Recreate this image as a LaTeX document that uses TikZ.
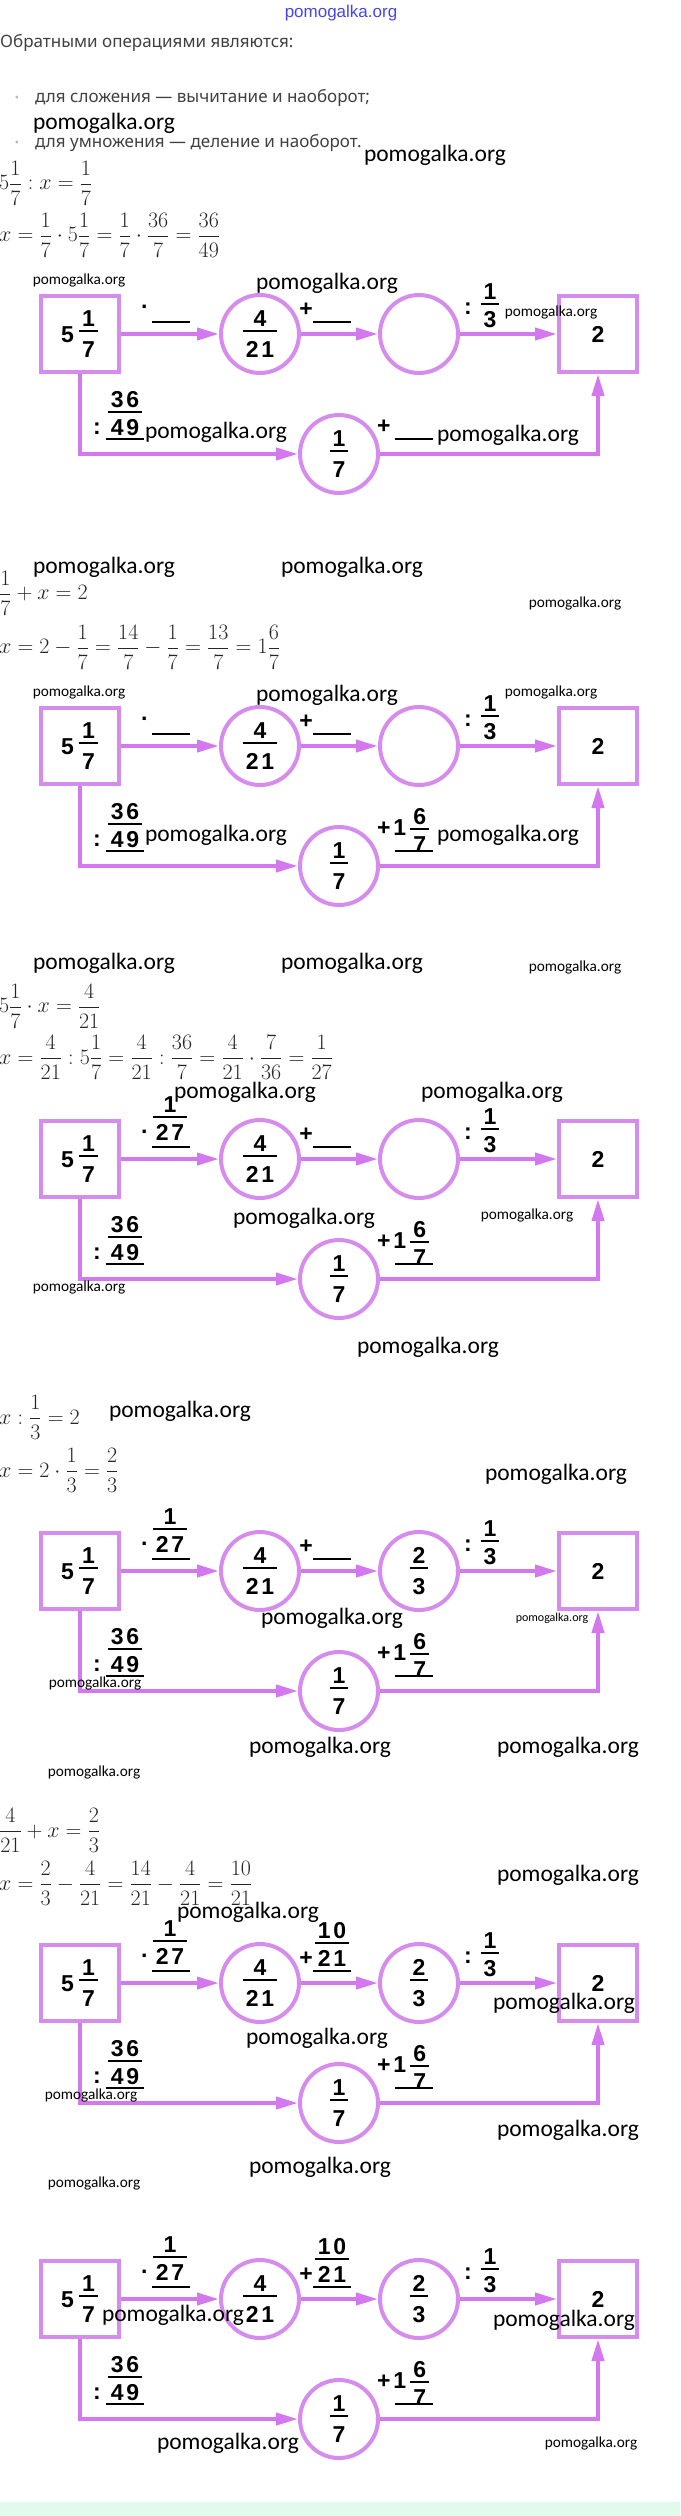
\RequirePackage{fix-cm}
\documentclass[tikz,border=0pt]{standalone}
\usepackage{amsmath}
\usepackage{fontspec}
\usepackage{tikz}
\usetikzlibrary{arrows.meta}
\newfontfamily\cifry[LetterSpace=12]{Liberation Sans}
\newfontfamily\rusfont{Noto Sans}
\newfontfamily\markfont{Carlito}
\newfontfamily\bluefont{Liberation Sans}
\definecolor{boxc}{RGB}{214,140,236}
\definecolor{arrowc}{RGB}{212,120,240}
\definecolor{mintc}{RGB}{224,251,236}
\definecolor{bluec}{RGB}{70,70,230}
\newcommand\cifrafont{\cifry\bfseries\fontsize{23}{27}\selectfont}
% 分数: 分子, 分数线, 分母
\newcommand\drob[3][24pt]{$\genfrac{}{}{1.6pt}{}{\hbox{\kern3pt\rule[-2.5pt]{0pt}{2.5pt}#2\kern3pt}}{\hbox{\kern3pt\rule{0pt}{#1}#3\kern3pt}}$}
\newcommand\plusodin{\raisebox{10pt}{+1\hspace{3pt}\drob[21pt]{6}{7}}}
\tikzset{
    squarenode/.style={
        rectangle,
        draw=boxc, % 边框颜色为淡紫色
        line width=4pt, % 边框加粗
        minimum width=78pt,
        minimum height=76pt,
        inner sep=0,
        font=\cifrafont
    },
    roundnode/.style={
        circle,
        draw=boxc, % 边框颜色为淡紫色
        line width=4pt, % 边框加粗
        minimum size=78pt,
        inner sep=0,
        font=\cifrafont
    },
    arrowline/.style={
        draw=arrowc,
        line width=4pt,
        -{Triangle[length=22pt,width=12pt]}
    },
    opnode/.style={anchor=base, inner sep=0, font=\cifrafont},
    fracnode/.style={anchor=base, inner sep=0, font=\cifrafont},
    slotnode/.style={inner sep=0},
    textnode/.style={anchor=west, inner sep=0, text=black!75, font=\rusfont\fontsize{17}{21}\selectfont},
    dotnode/.style={inner sep=0, text=black!30, font=\rusfont\fontsize{11}{13}\selectfont},
    eqnode/.style={anchor=west, inner sep=0, text=black!85, font=\fontsize{22}{26}\selectfont},
    wmark/.style={inner sep=0, font=\markfont\fontsize{23.5}{28}\selectfont},
    wmarksmall/.style={inner sep=0, font=\markfont\fontsize{15.3}{18}\selectfont},
    wmarktiny/.style={inner sep=0, font=\markfont\fontsize{12}{14}\selectfont},
    bluemark/.style={inner sep=0, text=bluec, font=\bluefont\fontsize{17}{20}\selectfont}
}
% 一个图: 名字, 上边, 第二个圆, 三个答案
\newcommand\drawscheme[6]{%
    \begin{scope}[shift={(0,#2)}]
        \node[squarenode] (#1-L) at (80,41) {\raisebox{-6pt}{5}\hspace{4pt}\drob{1}{7}};
        \node[roundnode] (#1-A) at (260,41) {\drob{4}{21}};
        \node[roundnode] (#1-B) at (419,41) {#3};
        \node[squarenode] (#1-R) at (598,41) {2};
        \node[roundnode] (#1-C) at (339,161) {\drob{1}{7}};
        \draw[arrowline] (#1-L) -- (#1-A);
        \draw[arrowline] (#1-A) -- (#1-B);
        \draw[arrowline] (#1-B) -- (#1-R);
        \draw[arrowline] (#1-L.south) |- (#1-C);
        \draw[arrowline] (#1-C) -| (#1-R.south);
        % 箭头上的标注
        \node[opnode] (#1-o1) at (145,21) {·};
        \node[slotnode] (#1-u1) at (171,29) {\rule{38pt}{2pt}};
        \node[fracnode] (#1-f1) at (170,5) {#4};
        \node[opnode] (#1-o2) at (306,23) {+};
        \node[slotnode] (#1-u2) at (332,29) {\rule{38pt}{2pt}};
        \node[fracnode] (#1-f2) at (332,7) {#5};
        \node[opnode] (#1-o3) at (468,21) {:};
        \node[fracnode] (#1-f3) at (490,17) {\drob[21pt]{1}{3}};
        \node[opnode] (#1-o4) at (97,141) {:};
        \node[slotnode] (#1-u4) at (125,146) {\rule{38pt}{2pt}};
        \node[fracnode] (#1-f4) at (125,125) {\drob[21pt]{36}{49}};
        \node[opnode, anchor=base west] (#1-o5) at (377,140) {#6};
        \node[slotnode] (#1-u5) at (414,146) {\rule{38pt}{2pt}};
    \end{scope}}
\begin{document}
\begin{tikzpicture}[x=1pt, y=-1pt]
    \useasboundingbox (0,0) rectangle (680,2516);
    % 文字
    \node[bluemark] (w0) at (341,13) {pomogalka.org};
    \node[textnode] (t0) at (0,43) {Обратными операциями являются:};
    \node[dotnode] (b1) at (17,99) {•};
    \node[textnode] (t1) at (35,98) {для сложения — вычитание и наоборот;};
    \node[dotnode] (b2) at (17,144) {•};
    \node[textnode] (t2) at (35,143) {для умножения — деление и наоборот.};
    \node[eqnode] (e1) at (-1,183) {$\displaystyle 5\frac{1}{7} : x = \frac{1}{7}$};
    \node[eqnode] (e2) at (-1,235) {$\displaystyle x = \frac{1}{7}\cdot 5\frac{1}{7} = \frac{1}{7}\cdot\frac{36}{7} = \frac{36}{49}$};
    \node[eqnode] (e3) at (-1,593) {$\displaystyle \frac{1}{7} + x = 2$};
    \node[eqnode] (e4) at (-1,647) {$\displaystyle x = 2 - \frac{1}{7} = \frac{14}{7} - \frac{1}{7} = \frac{13}{7} = 1\frac{6}{7}$};
    \node[eqnode] (e5) at (-1,1006) {$\displaystyle 5\frac{1}{7}\cdot x = \frac{4}{21}$};
    \node[eqnode] (e6) at (-1,1057) {$\displaystyle x = \frac{4}{21} : 5\frac{1}{7} = \frac{4}{21} : \frac{36}{7} = \frac{4}{21}\cdot\frac{7}{36} = \frac{1}{27}$};
    \node[eqnode] (e7) at (-1,1417) {$\displaystyle x : \frac{1}{3} = 2$};
    \node[eqnode] (e8) at (-1,1470) {$\displaystyle x = 2\cdot\frac{1}{3} = \frac{2}{3}$};
    \node[eqnode] (e9) at (-1,1830) {$\displaystyle \frac{4}{21} + x = \frac{2}{3}$};
    \node[eqnode] (e10) at (-1,1883) {$\displaystyle x = \frac{2}{3} - \frac{4}{21} = \frac{14}{21} - \frac{4}{21} = \frac{10}{21}$};
    % 六个图
    \drawscheme{d1}{293}{}{}{}{+}
    \drawscheme{d2}{705}{}{}{}{\plusodin}
    \drawscheme{d3}{1118}{}{\drob[21pt]{1}{27}}{}{\plusodin}
    \drawscheme{d4}{1530}{\drob{2}{3}}{\drob[21pt]{1}{27}}{}{\plusodin}
    \drawscheme{d5}{1942}{\drob{2}{3}}{\drob[21pt]{1}{27}}{\drob[21pt]{10}{21}}{\plusodin}
    \drawscheme{d6}{2258}{\drob{2}{3}}{\drob[21pt]{1}{27}}{\drob[21pt]{10}{21}}{\plusodin}
    % 水印
    \node[wmark] (w1) at (104,123) {pomogalka.org};
    \node[wmark] (w2) at (435,155) {pomogalka.org};
    \node[wmarksmall] (w3) at (79,280) {pomogalka.org};
    \node[wmark] (w4) at (327,283) {pomogalka.org};
    \node[wmarksmall] (w5) at (551,312) {pomogalka.org};
    \node[wmark] (w6) at (216,432) {pomogalka.org};
    \node[wmark] (w7) at (508,435) {pomogalka.org};
    \node[wmark] (w8) at (104,567) {pomogalka.org};
    \node[wmark] (w9) at (352,567) {pomogalka.org};
    \node[wmarksmall] (w10) at (575,603) {pomogalka.org};
    \node[wmarksmall] (w11) at (79,692) {pomogalka.org};
    \node[wmark] (w12) at (327,695) {pomogalka.org};
    \node[wmarksmall] (w13) at (551,692) {pomogalka.org};
    \node[wmark] (w14) at (216,835) {pomogalka.org};
    \node[wmark] (w15) at (508,835) {pomogalka.org};
    \node[wmark] (w16) at (104,963) {pomogalka.org};
    \node[wmark] (w17) at (352,963) {pomogalka.org};
    \node[wmarksmall] (w18) at (575,967) {pomogalka.org};
    \node[wmark] (w19) at (245,1092) {pomogalka.org};
    \node[wmark] (w20) at (492,1092) {pomogalka.org};
    \node[wmark] (w21) at (304,1218) {pomogalka.org};
    \node[wmarksmall] (w22) at (527,1215) {pomogalka.org};
    \node[wmarksmall] (w23) at (79,1287) {pomogalka.org};
    \node[wmark] (w24) at (428,1347) {pomogalka.org};
    \node[wmark] (w25) at (180,1411) {pomogalka.org};
    \node[wmark] (w26) at (556,1474) {pomogalka.org};
    \node[wmark] (w27) at (332,1618) {pomogalka.org};
    \node[wmarktiny] (w28) at (552,1618) {pomogalka.org};
    \node[wmarksmall] (w29) at (95,1683) {pomogalka.org};
    \node[wmark] (w30) at (320,1747) {pomogalka.org};
    \node[wmark] (w31) at (568,1747) {pomogalka.org};
    \node[wmarksmall] (w32) at (94,1772) {pomogalka.org};
    \node[wmark] (w33) at (568,1875) {pomogalka.org};
    \node[wmark] (w34) at (248,1912) {pomogalka.org};
    \node[wmark] (w35) at (564,2003) {pomogalka.org};
    \node[wmark] (w36) at (317,2038) {pomogalka.org};
    \node[wmarksmall] (w37) at (91,2095) {pomogalka.org};
    \node[wmark] (w38) at (568,2130) {pomogalka.org};
    \node[wmark] (w39) at (320,2167) {pomogalka.org};
    \node[wmarksmall] (w40) at (94,2183) {pomogalka.org};
    \node[wmark] (w41) at (173,2315) {pomogalka.org};
    \node[wmark] (w42) at (564,2320) {pomogalka.org};
    \node[wmark] (w43) at (228,2443) {pomogalka.org};
    \node[wmarksmall] (w44) at (591,2443) {pomogalka.org};
    % 底部绿色条
    \fill[mintc] (0,2502) rectangle (680,2516);
\end{tikzpicture}
\end{document}
